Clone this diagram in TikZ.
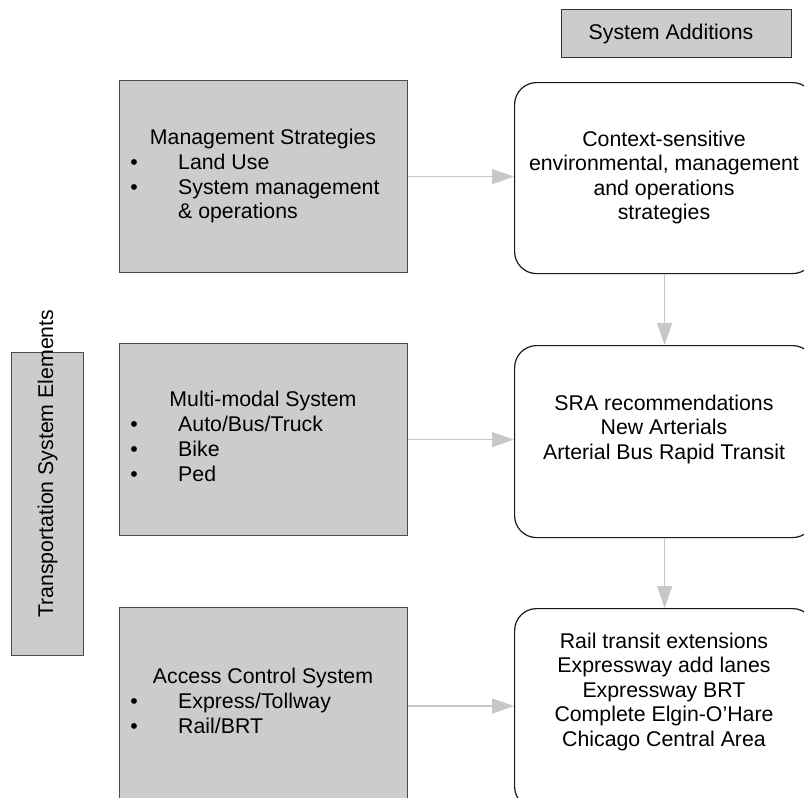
\documentclass[tikz,border=0pt]{standalone}
\usepackage{fontspec}
\setmainfont{Liberation Sans}
\usetikzlibrary{arrows.meta}
\begin{document}
\begin{tikzpicture}[x=1pt,y=-1pt,
  lbox/.style={draw=black!70, fill=black!20, line width=1.2pt, inner sep=0pt, anchor=north west},
  rbox/.style={draw=black!90, fill=white, rounded corners=22pt, line width=1.2pt, inner sep=0pt, anchor=north west},
  txt/.style={font=\fontsize{21.3}{24.5}\selectfont, inner sep=0pt, anchor=base},
  ltxt/.style={txt, anchor=base west},
  conn/.style={draw=black!22, line width=1.4pt, -{Triangle[length=22pt,width=15pt]}}
]
\useasboundingbox (0,0) rectangle (804,798);
\clip (0,0) rectangle (804,798);

% header box
\node[lbox, draw=black!80, minimum width=230pt, minimum height=48pt] (SA) at (561,9) {};
\node[txt] (SAt) at (671,39) {System Additions};

% vertical label box
\node[lbox, minimum width=72pt, minimum height=303pt] (VL) at (11,352) {};
\node[txt, anchor=base west, rotate=90] (VLt) at (53,618) {Transportation System Elements};

% left boxes
\node[lbox, minimum width=288pt, minimum height=192pt] (L1) at (119,80) {};
\node[lbox, minimum width=288pt, minimum height=192pt] (L2) at (119,343) {};
\node[lbox, minimum width=288pt, minimum height=200pt] (L3) at (119,607) {};

% right boxes
\node[rbox, minimum width=300pt, minimum height=191pt] (R1) at (514,82) {};
\node[rbox, minimum width=300pt, minimum height=192pt] (R2) at (514,345) {};
\node[rbox, minimum width=300pt, minimum height=200pt] (R3) at (514,608) {};

% connectors
\draw[conn] (L1.east) -- (L1.east -| R1.west);
\draw[conn] (L2.east) -- (L2.east -| R2.west);
\draw[conn] (L3.east |- 0,706) -- (R3.west |- 0,706);
\draw[conn] (R1.south) -- (R2.north);
\draw[conn] (R2.south) -- (R3.north);

% left box 1 text
\node[txt] (a1) at (263,144) {Management Strategies};
\node[txt] (a2b) at (134,169) {•};
\node[ltxt] (a2) at (178,169) {Land Use};
\node[txt] (a3b) at (134,194) {•};
\node[ltxt] (a3) at (178,194) {System management};
\node[ltxt] (a4) at (178,218) {\& operations};

% left box 2 text
\node[txt] (b1) at (263,406) {Multi-modal System};
\node[txt] (b2b) at (134,431) {•};
\node[ltxt] (b2) at (178,431) {Auto/Bus/Truck};
\node[txt] (b3b) at (134,456) {•};
\node[ltxt] (b3) at (178,456) {Bike};
\node[txt] (b4b) at (134,481) {•};
\node[ltxt] (b4) at (178,481) {Ped};

% left box 3 text
\node[txt] (c1) at (263,683) {Access Control System};
\node[txt] (c2b) at (134,708) {•};
\node[ltxt] (c2) at (178,708) {Express/Tollway};
\node[txt] (c3b) at (134,733) {•};
\node[ltxt] (c3) at (178,733) {Rail/BRT};

% right box 1 text
\node[txt] (d1) at (664,146) {Context-sensitive};
\node[txt] (d2) at (664,170.5) {environmental, management};
\node[txt] (d3) at (664,195) {and operations};
\node[txt] (d4) at (664,219.5) {strategies};

% right box 2 text
\node[txt] (e1) at (664,410) {SRA recommendations};
\node[txt] (e2) at (664,434.5) {New Arterials};
\node[txt] (e3) at (664,459) {Arterial Bus Rapid Transit};

% right box 3 text
\node[txt] (f1) at (664,648) {Rail transit extensions};
\node[txt] (f2) at (664,672.5) {Expressway add lanes};
\node[txt] (f3) at (664,697) {Expressway BRT};
\node[txt] (f4) at (664,721.5) {Complete Elgin-O'Hare};
\node[txt] (f5) at (664,746) {Chicago Central Area};
\end{tikzpicture}
\end{document}
